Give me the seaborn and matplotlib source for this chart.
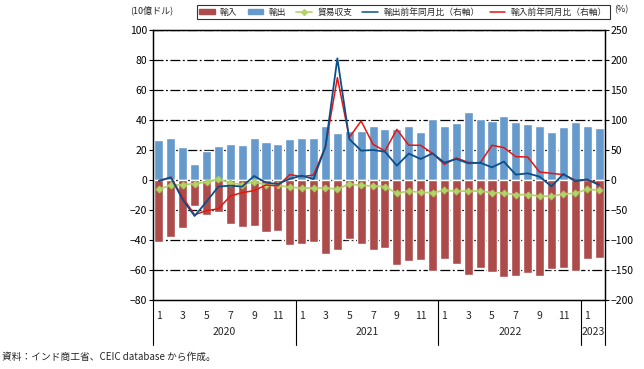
import numpy as np
import pandas as pd
import seaborn as sns
import matplotlib.pyplot as plt
from matplotlib.lines import Line2D
from matplotlib.patches import Patch
import matplotlib.transforms as mtransforms

# 月次データ 2020年1月〜2023年2月
months = list(range(1, 13)) * 3 + [1, 2]
years = [2020] * 12 + [2021] * 12 + [2022] * 12 + [2023] * 2

# 輸出・輸入（10億ドル）
exports = [26.7, 28, 22, 10.7, 19.3, 22.7, 24, 23.3, 28, 25.3,
           24, 27.3, 28, 28, 36, 31.3, 32.7, 32.7, 36, 34,
           34, 36, 32, 40.4, 36, 38, 45.3, 40.7, 39.3, 42.7,
           38.7, 37.3, 36, 32, 35.3, 38.7, 36, 34.7]
imports = [-41.1, -37.8, -31.8, -17.1, -23.1, -21.1, -29.1, -31.1, -30.4, -34.4,
           -33.8, -43.1, -42.4, -41.1, -49.1, -46.4, -39.1, -42.4, -46.4, -45.1,
           -56.4, -53.8, -53.1, -60.4, -52.4, -55.8, -63.1, -58.4, -61.1, -64.4,
           -63.8, -61.8, -63.8, -59.1, -58.4, -60.4, -52.4, -51.8]
# 貿易収支（右軸スケールで描画）
balance = [-15, -8.9, -7.8, -6.1, -3.3, 1.1, -4.4, -7.8, -2.8, -8.3,
           -8.9, -12.2, -13.3, -13.3, -13.3, -15, -6.7, -8.9, -10, -11.1,
           -22.2, -18.3, -20.6, -21.1, -17.2, -18.5, -18.3, -18.3, -21.1, -21.7,
           -24.4, -24.4, -26.7, -27.2, -23.3, -22.2, -15.6, -16.7]
# 前年同月比（%）
export_yoy = [-1.7, 4.4, -33, -60, -36, -11, -9.4, -11, 6.7, -4.4,
              -6.7, 2, 7.2, 1.7, 55.6, 202.8, 68.3, 48.9, 50, 47.2,
              23.9, 44, 35, 44.4, 28.9, 35, 27.8, 28.9, 21.1, 30.6,
              8.9, 11.1, 5.6, -10.6, 10, -2.2, 1.1, -8.3]
import_yoy = [-1, 4.4, -29, -58, -51, -48, -26.7, -21, -17.8, -8.3,
              -10, 9, 5.6, 8.3, 55.6, 170.6, 71, 98.3, 59.4, 48.3,
              84.4, 58, 57.8, 44.4, 26.1, 36.7, 29.4, 28.3, 57.8, 53.9,
              38.9, 38.3, 13.3, 11.1, 8.9, 0, 0, -5.6]

df = pd.DataFrame({"idx": range(len(months)), "month": months, "year": years,
                   "exports": exports, "imports": imports, "balance": balance,
                   "export_yoy": export_yoy, "import_yoy": import_yoy})

sns.set_theme(style="white")
plt.rcParams["font.family"] = ["Noto Sans CJK JP", "DejaVu Sans"]

c_imp = "#AD4B4B"
c_exp = "#6699CC"
c_bal = "#B3D36B"
c_eyoy = "#0B4F8A"
c_iyoy = "#E8140F"

fig = plt.figure(figsize=(6.44, 3.69), dpi=100)
ax = fig.add_axes([153 / 644, 69 / 369, 452 / 644, 270 / 369])

sns.barplot(data=df, x="idx", y="exports", color=c_exp, width=0.76,
            saturation=1, ax=ax, zorder=2)
sns.barplot(data=df, x="idx", y="imports", color=c_imp, width=0.76,
            saturation=1, ax=ax, zorder=2)

ax.set_ylim(-80, 100)
ax.set_yticks(range(-80, 101, 20))
ax.set_xlim(-0.5, len(df) - 0.5)
for v in range(-60, 101, 20):
    ax.axhline(v, color="black", lw=0.9, ls=(0, (8, 2, 1.5, 2)), zorder=1)

ax2 = ax.twinx()
ax2.set_ylim(-200, 250)
ax2.set_yticks(range(-200, 251, 50))
sns.lineplot(data=df, x="idx", y="balance", color=c_bal, lw=1.3, marker="D",
             markersize=3.5, markeredgecolor="#A9C85A", ax=ax2)
sns.lineplot(data=df, x="idx", y="import_yoy", color=c_iyoy, lw=1.1, ax=ax2)
sns.lineplot(data=df, x="idx", y="export_yoy", color=c_eyoy, lw=1.3, ax=ax2)
ax2.set_xlim(-0.5, len(df) - 0.5)

for a in (ax, ax2):
    a.set_xlabel("")
    a.set_ylabel("")
    for s in a.spines.values():
        s.set_color("black")
        s.set_linewidth(0.9)
    a.tick_params(axis="y", direction="out", length=3, width=0.8,
                  labelsize=7.5, pad=1, colors="black")

# x軸：月と年
odd_idx = [i for i, m in enumerate(months) if m % 2 == 1]
ax.set_xticks(odd_idx)
ax.set_xticklabels([str(months[i]) for i in odd_idx], fontsize=7.5)
ax.tick_params(axis="x", length=0, pad=8)
ax2.tick_params(axis="x", length=0, labelbottom=False)

trans = mtransforms.blended_transform_factory(ax.transData, ax.transAxes)
bounds = [-0.5, 11.5, 23.5, 35.5, 37.5]
for b in bounds:
    ax.plot([b, b], [0, -0.165], color="black", lw=0.8, transform=trans,
            clip_on=False)
for yr in sorted(set(years)):
    pos = [i for i, y in enumerate(years) if y == yr]
    ax.text((pos[0] + pos[-1]) / 2, -0.12, str(yr), transform=trans,
            ha="center", va="center", fontsize=7.5)

fig.text(130 / 644, 1 - 10 / 369, "(10億ドル)", fontsize=6.5, ha="left", va="center")
fig.text(614 / 644, 1 - 10 / 369, "(%)", fontsize=6.5, ha="left", va="center")
fig.text(2 / 644, 1 - 357 / 369, "資料：インド商工省、CEIC database から作成。",
         fontsize=7, ha="left", va="center")

handles = [Patch(color=c_imp), Patch(color=c_exp),
           Line2D([], [], color=c_bal, marker="D", markersize=3, lw=1.2),
           Line2D([], [], color=c_eyoy, lw=1.1),
           Line2D([], [], color=c_iyoy, lw=1.1)]
labels = ["輸入", "輸出", "貿易収支", "輸出前年同月比（右軸）", "輸入前年同月比（右軸）"]
leg = fig.legend(handles, labels, ncol=5, loc="center",
                 bbox_to_anchor=(403 / 644, 1 - 12 / 369), fontsize=6.3,
                 frameon=True, fancybox=False, edgecolor="black",
                 handlelength=1.8, handleheight=0.5, columnspacing=1.15,
                 handletextpad=0.6, borderpad=0.3, borderaxespad=0)
leg.get_frame().set_linewidth(0.8)

fig.savefig("out.png", dpi=100)
